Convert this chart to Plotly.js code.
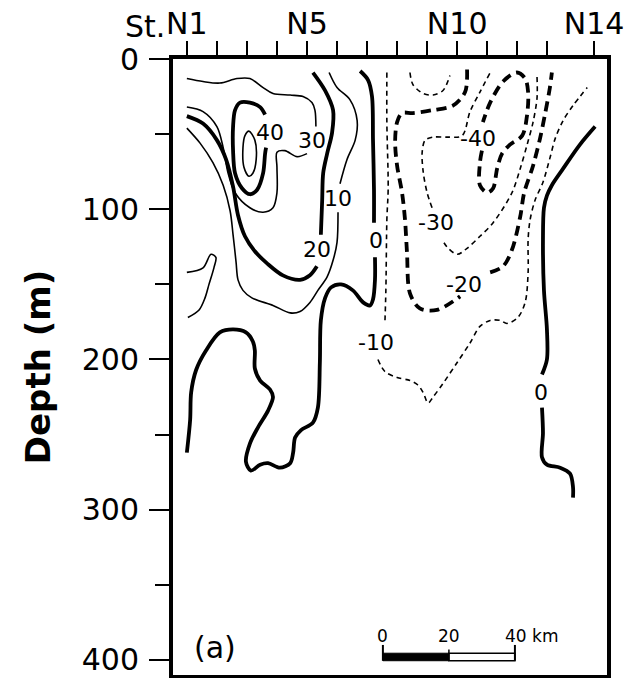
<!DOCTYPE html>
<html><head><meta charset="utf-8">
<script src="https://cdn.plot.ly/plotly-3.0.1.min.js"></script>
<style>html,body{margin:0;padding:0;background:#fff}#chart{width:630px;height:678px}</style>
</head><body><div id="chart"></div>
<script>
// ---------- data ----------
// stations along the section, km from the left edge of the panel
const stationKm = [4.2,13.3,22.4,31.5,40.6,49.7,58.8,67.9,77.0,86.1,95.2,104.2,113.3,127.6];
const stationLabels = ["N1","","","","N5","","","","","N10","","","","N14"];
const depthTickVals = [0,100,200,300,400];
const depthTickText = ["0","100","200","300","400"];
const depthMinorVals = [50,150,250,350];

// contour lines: distance (km) and depth (m); null = break where a label sits
const c50Km    = [23.0,24.8,25.2,24.2,23.0,21.5,21.2,21.8,23.0];
const c50Depth = [48,54,67,76,78,72,59,51,48];

const c40Km    = [27.9,26.4,23.3,20.3,18.8,18.2,18.2,18.8,20.9,23.3,25.5,27.3,27.9,28.2];
const c40Depth = [37,32,29,29,34,45,61,76,86,90,87,76,63,59];

const c30Km    = [4.2,9.1,14.2,19.4,23.3,27.3,30.3,35.5,39.4,42.1,43.0,43.3,null,40.6,37.6,33.9,31.5,31.5,31.5,30.3,27.3,23.3,18.8,16.7,15.2,13.3,9.1,4.2];
const c30Depth = [13,15,16,13,13,19,23,24,25,29,34,45,null,63,65,61,62,72,89,99,102,99,89,76,59,45,35,32];

const c20Km    = [4.2,9.1,13.3,16.1,18.2,19.7,21.8,24.8,28.5,33.3,38.5,41.5,43.6,null,44.8,45.2,45.5,46.7,48.2,48.5,46.1,42.4];
const c20Depth = [38,43,54,67,85,104,118,128,136,144,147,144,138,null,117,94,76,63,49,34,21,9];

const c10Km    = [4.2,8.2,12.1,15.2,17.3,18.2,19.1,19.7,21.2,23.9,30.3,35.5,38.5,41.5,43.9,46.7,48.5,49.7,50.0,null,50.6,52.7,55.2,55.8,53.6,49.7,47.3];
const c10Depth = [46,56,69,84,101,117,135,147,154,159,164,169,168,162,154,145,134,122,102,null,83,67,54,41,27,19,9];

const c10bKm    = [4.2,9.1,11.5,13.0,12.4,10.9,9.7,7.9,4.5];
const c10bDepth = [142,139,130,132,139,150,159,167,172];

const c0Km    = [4.2,5.2,5.5,7.0,10.0,14.2,18.2,22.1,24.2,24.8,24.8,26.4,29.4,30.3,28.8,25.8,23.3,22.1,23.6,26.4,28.8,32.4,35.5,36.4,37.0,38.8,42.4,43.9,44.5,44.8,46.1,47.9,50.9,54.5,57.6,59.7,60.6,61.2,61.2,null,60.9,60.9,60.6,60.3,59.1,56.7];
const c0Depth = [262,240,222,207,194,182,180,182,188,194,206,214,220,225,234,245,256,268,274,270,269,272,269,262,252,247,242,232,202,174,159,152,150,154,162,164,160,147,132,null,109,87,54,25,14,8];

const c0rKm    = [127.9,123.3,118.2,114.8,113.3,112.4,112.1,112.4,113.3,113.3,111.8,null,111.8,112.1,111.8,113.3,117.3,120.3,121.2,121.2];
const c0rDepth = [45,57,73,84,91,99,120,154,180,200,210,null,232,249,265,270,272,276,285,292];

const cm10Km    = [64.8,64.8,65.2,64.8,64.5,64.2,null,62.1,64.2,67.9,71.8,74.2,75.8,77.3,78.8,81.8,86.1,90.0,93.0,96.1,99.1,101.2,104.5,106.7,107.6,107.6,108.2,109.7,112.1,114.2,115.8,118.2,121.2,125.5];
const cm10Depth = [9,42,86,107,154,176,null,200,208,212,214,217,222,229,225,216,202,189,178,174,174,176,172,162,142,120,107,94,82,66,53,41,31,19];

const cm20Km    = [89.1,88.5,84.8,78.8,72.7,69.4,67.9,67.3,67.9,69.4,70.3,70.9,71.8,74.8,80.0,87.0,null,96.1,100.0,102.7,105.2,106.4,109.1,111.2,112.7,114.2,114.8];
const cm20Depth = [7,22,31,34,36,36,42,55,71,89,107,129,156,166,167,158,null,142,138,127,105,89,71,53,37,19,9];

const cm30Km    = [110.3,110.3,109.1,107.3,105.2,102.7,97.0,93.0,89.1,86.1,83.0,81.5,null,78.5,77.0,75.8,75.5,76.4,78.8,83.0,87.6,90.0,93.0,96.1];
const cm30Depth = [12,26,42,57,73,89,109,118,126,130,125,120,null,99,89,75,62,54,52,52,51,35,22,9];

const cm30bKm    = [71.8,72.7,75.8,78.8,81.8,83.9];
const cm30bDepth = [9,17,23,24,21,11];

const cm40Km    = [93.6,93.0,93.0,95.2,97.0,98.2,99.7,102.1,105.8,107.3,107.6,106.7,104.2,100.0,96.1,93.9];
const cm40Depth = [61,69,84,89,86,73,63,57,51,37,22,13,9,15,29,42];

// contour labels
const labelText  = ["40","30","20","10","0","-40","-30","-20","-10","0"];
const labelKm    = [29.4,42.1,43.6,50.0,61.5,92.4,79.7,88.2,61.5,111.5];
const labelDepth = [49,54,127,93,121,53,109,150,189,222];

// scale bar
const scaleBarOriginKm = 63.6;
const scaleBarKm = [0,20,40];

// ---------- drawing ----------
const thickSolid = {width:3.8, color:'#000', dash:'solid'};
const thinSolid  = {width:1.6, color:'#000', dash:'solid'};
const thickDash  = {width:3.8, color:'#000', dash:'10px,6px'};
const thinDash   = {width:1.6, color:'#000', dash:'5px,4px'};

function line(x, y, style) {
  return {type:'scatter', mode:'lines', x:x, y:y, connectgaps:false,
          line:Object.assign({shape:'spline', smoothing:0.9}, style),
          hoverinfo:'skip', showlegend:false};
}

const traces = [
  line(c50Km, c50Depth, thinSolid),
  line(c40Km, c40Depth, thickSolid),
  line(c30Km, c30Depth, thinSolid),
  line(c20Km, c20Depth, thickSolid),
  line(c10Km, c10Depth, thinSolid),
  line(c10bKm, c10bDepth, thinSolid),
  line(c0Km, c0Depth, thickSolid),
  line(c0rKm, c0rDepth, thickSolid),
  line(cm10Km, cm10Depth, thinDash),
  line(cm20Km, cm20Depth, thickDash),
  line(cm30Km, cm30Depth, thinDash),
  line(cm30bKm, cm30bDepth, thinDash),
  line(cm40Km, cm40Depth, thickDash)
];

const FONT = 'DejaVu Sans, sans-serif';
const annotations = labelText.map((t, i) => ({
  x: labelKm[i], y: labelDepth[i], xref:'x', yref:'y', text:t, showarrow:false,
  font:{family:FONT, size:22, color:'#000'}, xanchor:'center', yanchor:'middle'
}));

// "St." prefix of the first station label
annotations.push({x: stationKm[0], y: 1, xref:'x', yref:'paper', text:'St.', showarrow:false,
  xanchor:'right', yanchor:'bottom', xshift:-20, yshift:13,
  font:{family:FONT, size:30, color:'#000'}});

// panel tag
annotations.push({x: 12.7, y: 392, xref:'x', yref:'y', text:'(a)', showarrow:false,
  font:{family:FONT, size:30, color:'#000'}, xanchor:'center', yanchor:'middle'});

// scale bar labels
scaleBarKm.forEach((d, i) => {
  const last = i === scaleBarKm.length - 1;
  annotations.push({x: scaleBarOriginKm + d, y: 384, xref:'x', yref:'y',
    text: last ? d + ' km' : String(d), showarrow:false,
    xanchor: last ? 'left' : 'center', xshift: last ? -12 : 0, yanchor:'middle',
    font:{family:FONT, size:17, color:'#000'}});
});

const sb0 = scaleBarOriginKm, sb1 = scaleBarOriginKm + scaleBarKm[1], sb2 = scaleBarOriginKm + scaleBarKm[2];
const shapes = [
  {type:'rect', xref:'x', yref:'y', x0:sb0, x1:sb1, y0:395.5, y1:400.5, fillcolor:'#000', line:{color:'#000', width:1}},
  {type:'rect', xref:'x', yref:'y', x0:sb1, x1:sb2, y0:395.5, y1:400.5, fillcolor:'#fff', line:{color:'#000', width:1.5}},
  {type:'line', xref:'x', yref:'y', x0:sb0, x1:sb0, y0:390, y1:400.5, line:{color:'#000', width:2}},
  {type:'line', xref:'x', yref:'y', x0:sb2, x1:sb2, y0:390, y1:400.5, line:{color:'#000', width:2}},
  {type:'line', xref:'x', yref:'y', x0:sb1, x1:sb1, y0:393, y1:400.5, line:{color:'#000', width:1.5}}
];

const layout = {
  width:630, height:678,
  margin:{l:173, r:23, t:59, b:3},
  paper_bgcolor:'#fff', plot_bgcolor:'#fff',
  showlegend:false,
  xaxis:{
    side:'top', range:[0,131.5], tickmode:'array', tickvals:stationKm, ticktext:stationLabels,
    ticks:'outside', ticklen:14, tickwidth:2, tickcolor:'#000',
    showline:true, linewidth:4, linecolor:'#000', mirror:true,
    showgrid:false, zeroline:false, fixedrange:true,
    ticklabelstandoff:-5,
    tickfont:{family:FONT, size:30, color:'#000'}
  },
  yaxis:{
    range:[410,0], tickmode:'array', tickvals:depthTickVals, ticktext:depthTickText,
    ticks:'outside', ticklen:20, tickwidth:2, tickcolor:'#000',
    minor:{tickmode:'array', tickvals:depthMinorVals, ticks:'outside', ticklen:14, tickwidth:2, tickcolor:'#000', showgrid:false},
    showline:true, linewidth:4, linecolor:'#000', mirror:true,
    showgrid:false, zeroline:false, fixedrange:true,
    tickfont:{family:FONT, size:30, color:'#000'},
    ticklabelstandoff:4,
    title:{text:'Depth (m)', standoff:22, font:{family:FONT, size:34, color:'#000', weight:700}}
  },
  annotations:annotations,
  shapes:shapes
};

Plotly.newPlot('chart', traces, layout, {staticPlot:true, displayModeBar:false});
</script>
</body></html>
